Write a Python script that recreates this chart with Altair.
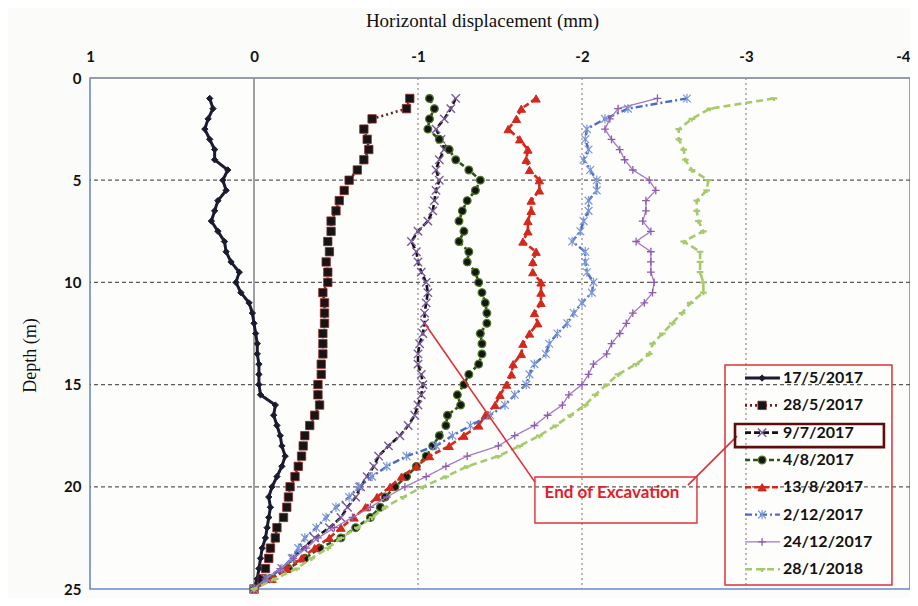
import altair as alt
import pandas as pd

# ---------------- data ----------------
DEPTH = [1.0, 1.5, 2.0, 2.5, 3.0, 3.5, 4.0, 4.5, 5.0, 5.5,
         6.0, 6.5, 7.0, 7.5, 8.0, 8.5, 9.0, 9.5, 10.0, 10.5,
         11.0, 11.5, 12.0, 12.5, 13.0, 13.5, 14.0, 14.5, 15.0, 15.5,
         16.0, 16.5, 17.0, 17.5, 18.0, 18.5, 19.0, 19.5, 20.0, 20.5,
         21.0, 21.5, 22.0, 22.5, 23.0, 23.5, 24.0, 24.5, 25.0]

SERIES = ["17/5/2017", "28/5/2017", "9/7/2017", "4/8/2017",
          "13/8/2017", "2/12/2017", "24/12/2017", "28/1/2018"]

S_17_5 = [0.27, 0.25, 0.28, 0.30, 0.27, 0.24, 0.24, 0.16, 0.19, 0.17,
          0.22, 0.24, 0.26, 0.22, 0.18, 0.17, 0.14, 0.09, 0.11, 0.08,
          0.03, 0.01, 0.00, -0.01, -0.02, -0.02, -0.03, -0.03, -0.03, -0.04,
          -0.13, -0.12, -0.14, -0.16, -0.17, -0.19, -0.17, -0.14, -0.11, -0.09,
          -0.10, -0.09, -0.08, -0.07, -0.05, -0.04, -0.03, -0.02, 0.00]
S_28_5 = [-0.95, -0.93, -0.72, -0.67, -0.69, -0.70, -0.67, -0.63, -0.58, -0.55,
          -0.52, -0.50, -0.47, -0.47, -0.45, -0.46, -0.44, -0.45, -0.45, -0.42,
          -0.43, -0.43, -0.43, -0.42, -0.42, -0.42, -0.41, -0.41, -0.39, -0.39,
          -0.40, -0.37, -0.34, -0.31, -0.30, -0.29, -0.27, -0.25, -0.22, -0.21,
          -0.20, -0.18, -0.14, -0.13, -0.10, -0.09, -0.07, -0.05, 0.00]
S_9_7 = [-1.23, -1.20, -1.16, -1.11, -1.14, -1.16, -1.13, -1.11, -1.13, -1.11,
         -1.10, -1.09, -1.06, -1.00, -0.96, -0.99, -1.00, -1.02, -1.05, -1.06,
         -1.05, -1.04, -1.04, -1.03, -1.01, -1.00, -1.00, -1.02, -1.03, -1.02,
         -1.00, -0.98, -0.94, -0.89, -0.82, -0.76, -0.73, -0.69, -0.65, -0.62,
         -0.57, -0.53, -0.46, -0.37, -0.30, -0.24, -0.17, -0.07, 0.00]
S_4_8 = [-1.07, -1.10, -1.07, -1.06, -1.13, -1.19, -1.23, -1.31, -1.38, -1.35,
         -1.30, -1.27, -1.25, -1.28, -1.25, -1.31, -1.30, -1.35, -1.37, -1.39,
         -1.41, -1.42, -1.42, -1.38, -1.39, -1.39, -1.37, -1.31, -1.28, -1.24,
         -1.26, -1.18, -1.17, -1.13, -1.09, -1.05, -0.99, -0.93, -0.86, -0.80,
         -0.77, -0.71, -0.62, -0.53, -0.40, -0.31, -0.21, -0.10, 0.00]
S_13_8 = [-1.72, -1.63, -1.60, -1.55, -1.62, -1.67, -1.66, -1.68, -1.74, -1.74,
          -1.69, -1.69, -1.67, -1.67, -1.64, -1.72, -1.70, -1.70, -1.75, -1.75,
          -1.75, -1.71, -1.73, -1.68, -1.64, -1.63, -1.58, -1.57, -1.54, -1.50,
          -1.47, -1.41, -1.37, -1.28, -1.19, -1.07, -0.99, -0.90, -0.83, -0.75,
          -0.68, -0.61, -0.53, -0.46, -0.37, -0.29, -0.20, -0.11, 0.00]
S_2_12 = [-2.64, -2.28, -2.14, -2.03, -2.02, -2.04, -2.01, -2.05, -2.09, -2.09,
          -2.04, -2.04, -2.01, -1.99, -1.94, -2.02, -2.02, -2.03, -2.07, -2.06,
          -2.00, -1.95, -1.91, -1.85, -1.80, -1.78, -1.71, -1.68, -1.66, -1.59,
          -1.53, -1.44, -1.32, -1.21, -1.11, -0.93, -0.81, -0.72, -0.64, -0.58,
          -0.50, -0.44, -0.38, -0.31, -0.27, -0.23, -0.17, -0.08, 0.00]
S_24_12 = [-2.46, -2.22, -2.17, -2.14, -2.18, -2.23, -2.26, -2.31, -2.41, -2.45,
           -2.39, -2.39, -2.37, -2.42, -2.33, -2.42, -2.42, -2.42, -2.44, -2.43,
           -2.38, -2.31, -2.27, -2.23, -2.18, -2.15, -2.07, -2.04, -2.00, -1.92,
           -1.88, -1.79, -1.71, -1.59, -1.49, -1.30, -1.17, -1.05, -0.92, -0.81,
           -0.71, -0.60, -0.49, -0.39, -0.32, -0.24, -0.16, -0.07, 0.00]
S_28_1 = [-3.17, -2.78, -2.67, -2.59, -2.59, -2.62, -2.63, -2.67, -2.77, -2.76,
          -2.70, -2.70, -2.71, -2.74, -2.62, -2.72, -2.72, -2.72, -2.74, -2.74,
          -2.66, -2.61, -2.55, -2.49, -2.43, -2.41, -2.33, -2.22, -2.15, -2.08,
          -2.02, -1.93, -1.84, -1.74, -1.62, -1.49, -1.30, -1.17, -1.03, -0.91,
          -0.80, -0.72, -0.63, -0.53, -0.45, -0.35, -0.26, -0.13, 0.00]

VALUES = [S_17_5, S_28_5, S_9_7, S_4_8, S_13_8, S_2_12, S_24_12, S_28_1]

X_TICKS = [1, 0, -1, -2, -3, -4]
Y_TICKS = [0, 5, 10, 15, 20, 25]
H_GRID = [5, 10, 15, 20]
V_GRID = [-1, -2, -3]

ANNOT_TEXT = "End of Excavation"

# ---------------- styles ----------------
X_PATH = "M-1,-1L1,1M-1,1L1,-1"
PLUS_PATH = "M-1,0L1,0M0,-1L0,1"
STAR_PATH = "M-1,-1L1,1M-1,1L1,-1M0,-1.2L0,1.2"
DASH_PATH = "M-1,0L1,0M0,0L0,0.8"

STYLES = [
    dict(lc="#1b1b2f", dash=[1, 0], lw=3.0, shape="diamond", filled=True, fill="#1b1b2f", stroke="#1b1b2f", size=40, sw=1),
    dict(lc="#6e2020", dash=[2, 3], lw=2.6, shape="square", filled=True, fill="#151515", stroke="#8b2a2a", size=70, sw=0.8),
    dict(lc="#141414", dash=[6, 3], lw=2.6, shape=X_PATH, filled=False, fill="none", stroke="#7a5a9c", size=70, sw=1.4),
    dict(lc="#2f5217", dash=[5, 3], lw=2.6, shape="circle", filled=True, fill="#151515", stroke="#4c7a22", size=60, sw=1.2),
    dict(lc="#d4281c", dash=[6, 3], lw=2.6, shape="triangle-up", filled=True, fill="#d4281c", stroke="#d4281c", size=70, sw=1),
    dict(lc="#4a6cc0", dash=[7, 3, 2, 3], lw=2.4, shape=STAR_PATH, filled=False, fill="none", stroke="#7b97d6", size=60, sw=1.2),
    dict(lc="#a478c4", dash=[1, 0], lw=1.3, shape=PLUS_PATH, filled=False, fill="none", stroke="#8c5cab", size=60, sw=1.3),
    dict(lc="#a6c96b", dash=[7, 4], lw=2.6, shape=DASH_PATH, filled=False, fill="none", stroke="#a6c96b", size=45, sw=2.2),
]

LABEL_FONT = "Lato"
xs = alt.Scale(domain=[-4, 1], reverse=True, nice=False, zero=False)
ys = alt.Scale(domain=[0, 25], reverse=True, nice=False, zero=False)

x_axis = alt.Axis(orient="top", values=X_TICKS, labelExpr="'' + datum.value",
                  labelFont=LABEL_FONT, labelFontWeight="bold", labelFontSize=15,
                  labelColor="#111", labelPadding=14, labelFlush=False,
                  labelAlign={"condition": {"test": "datum.value == -4", "value": "right"},
                              "value": "center"},
                  ticks=False, domain=False, grid=False,
                  title="Horizontal displacement (mm)", titleFont="Liberation Serif",
                  titleFontSize=19, titleFontWeight="normal", titleColor="#111",
                  titleX=392, titleY=-58, titleAlign="center", titleBaseline="middle")
y_axis = alt.Axis(orient="left", values=Y_TICKS,
                  labelFont=LABEL_FONT, labelFontWeight="bold", labelFontSize=15,
                  labelColor="#111", labelPadding=9, ticks=False, domain=False, grid=False,
                  title="Depth (m)", titleFont="Liberation Serif", titleFontSize=18,
                  titleFontWeight="normal", titleColor="#111",
                  titleX=-60, titleY=277, titleAngle=-90, titleAlign="center",
                  titleBaseline="middle")


def X(field):
    return alt.X(field, scale=xs, axis=x_axis)


def Y(field):
    return alt.Y(field, scale=ys, axis=y_axis)


layers = []

# gridlines and frame
layers.append(alt.Chart(pd.DataFrame({"d": H_GRID})).mark_rule(
    color="#5a5a5a", strokeDash=[4, 3], strokeWidth=1.3).encode(y=Y("d:Q")))
layers.append(alt.Chart(pd.DataFrame({"v": V_GRID})).mark_rule(
    color="#8d7c78", strokeDash=[2, 3], strokeWidth=1.1).encode(x=X("v:Q")))
layers.append(alt.Chart(pd.DataFrame({"v": [0]})).mark_rule(
    color="#8a8a8a", strokeWidth=1.6).encode(x=X("v:Q")))
layers.append(alt.Chart(pd.DataFrame({"d": [0]})).mark_rule(
    color="#9a9a9a", strokeWidth=1.6).encode(y=Y("d:Q")))

# series
for name, vals, st in zip(SERIES, VALUES, STYLES):
    df = pd.DataFrame({"d": DEPTH, "v": vals, "s": name})
    line = alt.Chart(df).mark_line(color=st["lc"], strokeDash=st["dash"],
                                   strokeWidth=st["lw"]).encode(
        x=X("v:Q"), y=Y("d:Q"), order="d:Q")
    pk = dict(shape=st["shape"], size=st["size"], strokeWidth=st["sw"],
              opacity=1, filled=st["filled"], stroke=st["stroke"])
    if st["filled"]:
        pk["fill"] = st["fill"]
    pts = alt.Chart(df).mark_point(**pk).encode(x=X("v:Q"), y=Y("d:Q"))
    layers += [line, pts]

# annotation: End of Excavation
ann_lines = pd.DataFrame({"x1": [-1.04, -2.646], "y1": [12.0, 19.92],
                          "x2": [-1.713, -2.945], "y2": [19.77, 17.52]})
layers.append(alt.Chart(ann_lines).mark_rule(color="#e0303a", strokeWidth=1.6).encode(
    x=X("x1:Q"), x2="x2:Q", y=Y("y1:Q"), y2="y2:Q"))
ann_box = pd.DataFrame({"x1": [-1.713], "x2": [-2.701], "y1": [19.52], "y2": [21.77]})
layers.append(alt.Chart(ann_box).mark_rect(fillOpacity=0, stroke="#e0303a", strokeWidth=1.4).encode(
    x=X("x1:Q"), x2="x2:Q", y=Y("y1:Q"), y2="y2:Q"))
layers.append(alt.Chart(pd.DataFrame({"x": [-2.183], "y": [20.31], "t": [ANNOT_TEXT]})).mark_text(
    font=LABEL_FONT, fontWeight="bold", fontSize=17, color="#e0202a", baseline="middle",
    align="center").encode(x=X("x:Q"), y=Y("y:Q"), text="t:N"))

# legend (drawn inside the plot)
LEG_TOP = 14.68
LEG_STEP = 1.336
leg_box = pd.DataFrame({"x1": [-2.872], "x2": [-3.89], "y1": [14.04], "y2": [24.81]})
layers.append(alt.Chart(leg_box).mark_rect(fillOpacity=0, stroke="#e0303a", strokeWidth=1.5).encode(
    x=X("x1:Q"), x2="x2:Q", y=Y("y1:Q"), y2="y2:Q"))
hl_box = pd.DataFrame({"x1": [-2.933], "x2": [-3.841], "y1": [16.93], "y2": [18.06]})
layers.append(alt.Chart(hl_box).mark_rect(fillOpacity=0, stroke="#5a0e0e", strokeWidth=2.6).encode(
    x=X("x1:Q"), x2="x2:Q", y=Y("y1:Q"), y2="y2:Q"))

for i, (name, st) in enumerate(zip(SERIES, STYLES)):
    yy = LEG_TOP + i * LEG_STEP
    ldf = pd.DataFrame({"x1": [-2.994], "x2": [-3.207], "y": [yy], "xm": [-3.098],
                        "xt": [-3.226], "t": [name]})
    layers.append(alt.Chart(ldf).mark_rule(color=st["lc"], strokeDash=st["dash"],
                                           strokeWidth=st["lw"]).encode(
        x=X("x1:Q"), x2="x2:Q", y=Y("y:Q")))
    pk = dict(shape=st["shape"], size=st["size"], strokeWidth=st["sw"], opacity=1,
              filled=st["filled"], stroke=st["stroke"])
    if st["filled"]:
        pk["fill"] = st["fill"]
    layers.append(alt.Chart(ldf).mark_point(**pk).encode(x=X("xm:Q"), y=Y("y:Q")))
    layers.append(alt.Chart(ldf).mark_text(font=LABEL_FONT, fontWeight="bold", fontSize=16,
                                           color="#111", align="left", baseline="middle").encode(
        x=X("xt:Q"), y=Y("y:Q"), text="t:N"))

chart = alt.layer(*layers).properties(
    width=820, height=511,
    padding={"left": 82, "top": 70, "right": 0, "bottom": 9},
    autosize=alt.AutoSizeParams(type="none"),
    background="#fbfbfa",
).configure_view(stroke="#6a8bd0", strokeWidth=1.6, fill="#fdfdfc")

chart.save("out.html", embed_options={"renderer": "svg", "actions": False})
